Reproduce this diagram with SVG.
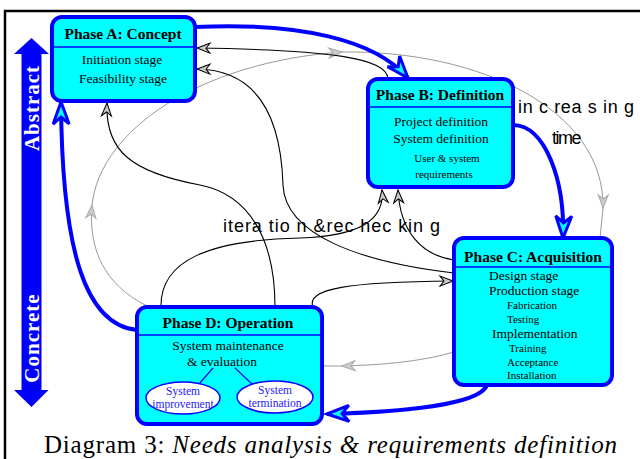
<svg xmlns="http://www.w3.org/2000/svg" width="640" height="459" viewBox="0 0 640 459">
<defs>
<style>
.box{fill:#00ffff;stroke:#0000ff;stroke-width:4}
.sep{stroke:#0000ff;stroke-width:1.5}
.title{font-family:"Liberation Serif","Times New Roman",serif;font-weight:bold;font-size:15.5px;text-anchor:middle;fill:#000}
.body{font-family:"Liberation Serif","Times New Roman",serif;font-size:13.5px;fill:#000}
.mid{text-anchor:middle}
.small{font-size:11px}
.ell{fill:#fff;stroke:#0000ff;stroke-width:1.5}
.etext{font-family:"Liberation Serif","Times New Roman",serif;font-size:11.5px;fill:#2020ff;text-anchor:middle}
.blue{fill:none;stroke:#0000ff;stroke-width:4}
.blk{fill:none;stroke:#000;stroke-width:1.1}
.gry{fill:none;stroke:#999;stroke-width:1}
.note{font-family:"Liberation Sans",Arial,sans-serif;font-size:18px;fill:#000}
.axis{font-family:"Liberation Serif","Times New Roman",serif;font-weight:bold;font-size:21px;fill:#fff;text-anchor:middle;letter-spacing:1px}
</style>
<marker id="mb" markerUnits="userSpaceOnUse" viewBox="-28 -12 30 24" markerWidth="30" markerHeight="24" refX="0" refY="0" orient="auto" overflow="visible">
<path d="M0,0 L-22,-8 L-15,0 L-22,8 Z" fill="#00ffff" stroke="#0000ff" stroke-width="3"/>
</marker>
<marker id="mk" markerUnits="userSpaceOnUse" viewBox="-16 -8 18 16" markerWidth="18" markerHeight="16" refX="0" refY="0" orient="auto" overflow="visible">
<path d="M0,0 L-13,-5 L-9,0 L-13,5 Z" fill="#c8c8c8" stroke="#000" stroke-width="1"/>
</marker>
<marker id="mg" markerUnits="userSpaceOnUse" viewBox="-16 -8 18 16" markerWidth="18" markerHeight="16" refX="0" refY="0" orient="auto" overflow="visible">
<path d="M0,0 L-13,-5 L-9,0 L-13,5 Z" fill="#cccccc" stroke="#aaa" stroke-width="1"/>
</marker>
</defs>

<rect x="5" y="11" width="700" height="500" fill="#fff" stroke="#000" stroke-width="2.5"/>

<g id="axis">
<polygon points="31.5,38 49,54 41.5,54 41.5,390 48.5,390 31.5,407 14,390 21.5,390 21.5,54 14,54" fill="#0000ff"/>
<text class="axis" transform="translate(39,108) rotate(-90)">Abstract</text>
<text class="axis" transform="translate(39,338) rotate(-90)">Concrete</text>
</g>

<g id="connectors">
<!-- gray time loop -->
<path class="gry" d="M147,306 C105,285 88,250 92,205" marker-end="url(#mg)"/>
<path class="gry" d="M92,205 C100,130 200,62 342,52" marker-end="url(#mg)"/>
<path class="gry" d="M342,52 C480,50 605,110 603,208" marker-end="url(#mg)"/>
<path class="gry" d="M603,208 L600,238"/>
<path class="gry" d="M454,352 C420,362 380,365 342,366" marker-end="url(#mg)"/>
<path class="gry" d="M342,366 L322,366"/>
<!-- black iteration lines -->
<path class="blk" d="M388,79 C388,58 330,50 197,48" marker-end="url(#mk)"/>
<path class="blk" d="M454,273 C360,262 285,235 283,185 C281,120 260,70 197,69" marker-end="url(#mk)"/>
<path class="blk" d="M275,307 C275,240 250,195 200,185 C130,172 105,150 107,103" marker-end="url(#mk)"/>
<path class="blk" d="M161,307 C160,260 210,240 300,238 C360,236 385,220 382,190" marker-end="url(#mk)"/>
<path class="blk" d="M454,260 C420,255 400,230 398,190" marker-end="url(#mk)"/>
<path class="blk" d="M313,308 C305,288 350,282 453,281" marker-end="url(#mk)"/>
<!-- blue phase flow -->
<path class="blue" d="M195,27 C300,22 375,40 408,78" marker-end="url(#mb)"/>
<path class="blue" d="M513,125 C545,125 565,180 563,238" marker-end="url(#mb)"/>
<path class="blue" d="M487,385 C480,405 400,412 327,414" marker-end="url(#mb)"/>
<path class="blue" d="M137,330 C85,325 62,250 61,102" marker-end="url(#mb)"/>
</g>

<g id="nodeA">
<rect class="box" x="52" y="17" width="143" height="84" rx="10"/>
<line class="sep" x1="54" y1="47" x2="193" y2="47"/>
<text class="title" x="123" y="39">Phase A: Concept</text>
<text class="body mid" x="122" y="64">Initiation stage</text>
<text class="body mid" x="123" y="83">Feasibility stage</text>
</g>

<g id="nodeB">
<rect class="box" x="368" y="79" width="145" height="108" rx="10"/>
<line class="sep" x1="370" y1="107" x2="511" y2="107"/>
<text class="title" x="440" y="100">Phase B: Definition</text>
<text class="body mid" x="441" y="126">Project definition</text>
<text class="body mid" x="441" y="143">System definition</text>
<text class="body mid small" x="447" y="162">User &amp; system</text>
<text class="body mid small" x="444" y="178">requirements</text>
</g>

<g id="nodeC">
<rect class="box" x="454" y="238" width="158" height="147" rx="10"/>
<line class="sep" x1="456" y1="267" x2="610" y2="267"/>
<text class="title" x="533" y="262">Phase C: Acquisition</text>
<text class="body" x="489" y="280">Design stage</text>
<text class="body" x="489" y="295">Production stage</text>
<text class="body small" x="507" y="309">Fabrication</text>
<text class="body small" x="507" y="323">Testing</text>
<text class="body" x="492" y="338">Implementation</text>
<text class="body small" x="509" y="352">Training</text>
<text class="body small" x="507" y="366">Acceptance</text>
<text class="body small" x="507" y="379">Installation</text>
</g>

<g id="nodeD">
<rect class="box" x="137" y="307" width="185" height="117" rx="10"/>
<line class="sep" x1="139" y1="335" x2="320" y2="335"/>
<text class="title" x="228" y="328">Phase D: Operation</text>
<text class="body mid" x="228" y="350">System maintenance</text>
<text class="body mid" x="222" y="366">&amp; evaluation</text>
<line x1="213" y1="368" x2="199" y2="384" stroke="#0000ff" stroke-width="1.2"/>
<line x1="235" y1="368" x2="252" y2="384" stroke="#0000ff" stroke-width="1.2"/>
<g id="nodeD1">
<ellipse class="ell" cx="183" cy="398" rx="37" ry="16"/>
<text class="etext" x="183" y="395">System</text>
<text class="etext" x="183" y="408">improvement</text>
</g>
<g id="nodeD2">
<ellipse class="ell" cx="275" cy="397" rx="38" ry="16"/>
<text class="etext" x="275" y="394">System</text>
<text class="etext" x="275" y="407">termination</text>
</g>
</g>

<g id="labels">
<text class="note" x="518" y="113" textLength="116" lengthAdjust="spacing">in c rea s in g</text>
<text class="note" x="552" y="144" letter-spacing="-1.5">time</text>
<text class="note" x="223" y="232" textLength="217" lengthAdjust="spacing">itera tio n &amp;rec hec kin g</text>
</g>

<text x="44" y="453" font-family="'Liberation Serif','Times New Roman',serif" font-size="25" fill="#000" textLength="573" lengthAdjust="spacing">Diagram 3: <tspan font-style="italic">Needs analysis &amp; requirements definition</tspan></text>
</svg>
